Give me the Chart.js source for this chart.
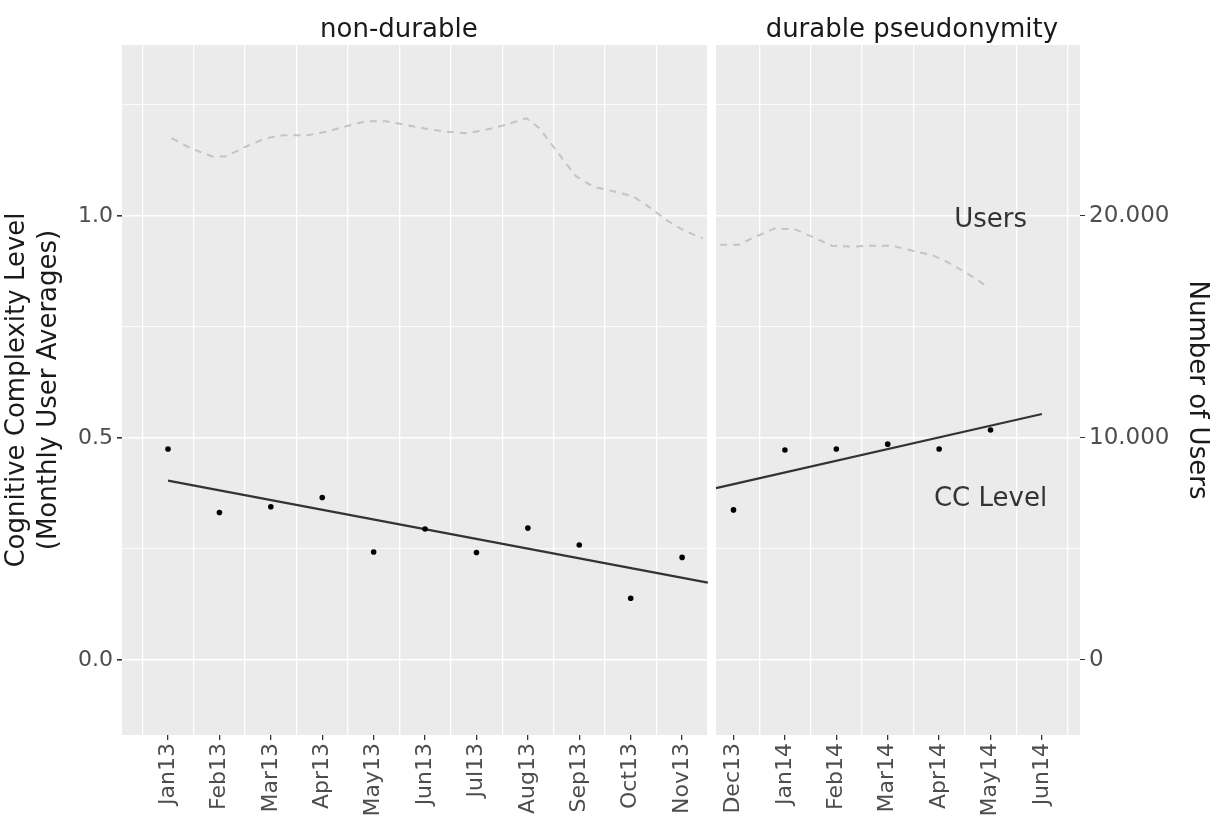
<!DOCTYPE html>
<html>
<head>
<meta charset="utf-8">
<script src="https://cdn.jsdelivr.net/npm/chart.js@4"></script>
<style>
  body { margin: 0; background: #fff; }
</style>
</head>
<body>
<canvas id="chart" width="1224" height="832"></canvas>
<script>
// month labels, index 0 = Jan13
const monthLabels = ['Jan13', 'Feb13', 'Mar13', 'Apr13', 'May13', 'Jun13', 'Jul13', 'Aug13', 'Sep13',
    'Oct13', 'Nov13', 'Dec13', 'Jan14', 'Feb14', 'Mar14', 'Apr14', 'May14', 'Jun14'];

// monthly CC level averages (Jan13 .. May14)
const ccLevel = [0.475, 0.332, 0.345, 0.366, 0.243, 0.295, 0.242, 0.297, 0.259, 0.139, 0.231,
    0.338, 0.473, 0.475, 0.486, 0.475, 0.518];

// linear fits per facet [month, level]
const trendNonDurable = [[0, 0.404], [10.5, 0.174]];
const trendDurable = [[10.66, 0.387], [17, 0.554]];

// number of users (dashed line), month position + count
const userMonthsNonDurable = [0.07, 0.45, 0.86, 1.12, 1.53, 1.90, 2.27, 2.72, 3.09, 3.46, 3.84, 4.25, 4.62,
    4.99, 5.40, 5.81, 6.18, 6.56, 6.97, 7.23, 7.49, 7.71, 7.94, 8.27, 8.68, 9.05, 9.35, 9.69, 10.02, 10.40];
const usersNonDurable = [23500, 23040, 22680, 22680, 23140, 23500, 23640, 23640, 23800, 24040, 24260, 24260, 24100,
    23940, 23800, 23720, 23880, 24100, 24400, 23940, 23140, 22460, 21780, 21320, 21100, 20880, 20420, 19820, 19360, 19000];
const userMonthsDurable = [10.74, 11.10, 11.42, 11.81, 12.20, 12.55, 12.91, 13.30, 13.69, 14.08, 14.47, 14.86,
    15.21, 15.54, 15.89];
const usersDurable = [18700, 18700, 19060, 19440, 19400, 19040, 18660, 18620, 18660, 18660, 18440, 18240,
    17860, 17420, 16900];

const facetNames = ['non-durable', 'durable pseudonymity'];
const levelTicks = [0, 0.25, 0.5, 0.75, 1.0, 1.25];
const userTicks = [0, 10000, 20000];

const FONT = 'DejaVu Sans';
const xMin = -0.895, xMax = 17.74;
const yMin = -0.169, yMax = 1.385;
const userScale = 20000; // 1.0 level == 20.000 users
const gapFrom = 10.5, gapTo = 10.66;

function isMajorLevel(v) {
    return Math.abs(v * 2 - Math.round(v * 2)) < 1e-6;
}

function dots(v) {
    return String(v).replace(/\B(?=(\d{3})+(?!\d))/g, '.');
}

// grey panel + white facet gap + text labels
const facetPlugin = {
    id: 'facet',
    beforeDraw(chart) {
        const { ctx, chartArea: a } = chart;
        ctx.save();
        ctx.fillStyle = '#ebebeb';
        ctx.fillRect(a.left, a.top, a.right - a.left, a.bottom - a.top);
        ctx.restore();
    },
    beforeDatasetsDraw(chart) {
        const { ctx, chartArea: a, scales } = chart;
        const x0 = scales.x.getPixelForValue(gapFrom);
        const x1 = scales.x.getPixelForValue(gapTo);
        ctx.save();
        ctx.fillStyle = '#ffffff';
        ctx.fillRect(x0, a.top, x1 - x0, a.bottom - a.top);
        ctx.restore();
    },
    afterDraw(chart) {
        const { ctx, scales } = chart;
        ctx.save();
        ctx.textAlign = 'center';
        ctx.textBaseline = 'middle';
        ctx.fillStyle = '#1a1a1a';
        ctx.font = '26px "' + FONT + '"';
        ctx.fillText(facetNames[0], scales.x.getPixelForValue(4.49), 30);
        ctx.fillText(facetNames[1], scales.x.getPixelForValue(14.47), 30);

        ctx.fillStyle = '#333333';
        ctx.font = '26px "' + FONT + '"';
        ctx.fillText('Users', scales.x.getPixelForValue(16.0), scales.y2.getPixelForValue(19800));
        ctx.fillText('CC Level', scales.x.getPixelForValue(16.0), scales.y.getPixelForValue(0.362));
        ctx.restore();
    }
};

const toPoints = (xs, ys) => xs.map((x, i) => ({ x: x, y: ys[i] }));

new Chart('chart', {
    type: 'line',
    data: {
        datasets: [
            {
                data: ccLevel.map((v, i) => ({ x: i, y: v })),
                yAxisID: 'y',
                showLine: false,
                pointRadius: 2.8,
                pointBackgroundColor: '#000',
                pointBorderWidth: 0
            },
            {
                data: trendNonDurable.map(p => ({ x: p[0], y: p[1] })),
                yAxisID: 'y',
                borderColor: '#333333',
                borderWidth: 2.2,
                pointRadius: 0
            },
            {
                data: trendDurable.map(p => ({ x: p[0], y: p[1] })),
                yAxisID: 'y',
                borderColor: '#333333',
                borderWidth: 2.2,
                pointRadius: 0
            },
            {
                data: toPoints(userMonthsNonDurable, usersNonDurable),
                yAxisID: 'y2',
                borderColor: '#c4c4c4',
                borderWidth: 2,
                borderDash: [7, 6],
                tension: 0,
                pointRadius: 0
            },
            {
                data: toPoints(userMonthsDurable, usersDurable),
                yAxisID: 'y2',
                borderColor: '#c4c4c4',
                borderWidth: 2,
                borderDash: [7, 6],
                tension: 0,
                pointRadius: 0
            }
        ]
    },
    options: {
        responsive: false,
        animation: false,
        devicePixelRatio: 1,
        layout: { padding: { top: 45, left: 0, right: 0, bottom: 0 } },
        plugins: {
            legend: { display: false },
            tooltip: { enabled: false }
        },
        scales: {
            x: {
                type: 'linear',
                position: 'bottom',
                min: xMin,
                max: xMax,
                afterBuildTicks: scale => {
                    const t = [];
                    for (let i = -0.5; i <= 17.5; i += 0.5) t.push({ value: i });
                    scale.ticks = t;
                },
                afterFit: scale => { scale.height = 97; },
                border: { display: false },
                grid: {
                    color: ctx => Number.isInteger(ctx.tick.value) ? 'rgba(0,0,0,0)' : '#ffffff',
                    lineWidth: 1.3,
                    tickLength: 5,
                    tickColor: ctx => Number.isInteger(ctx.tick.value) ? '#333333' : 'rgba(0,0,0,0)'
                },
                ticks: {
                    autoSkip: false,
                    minRotation: 90,
                    maxRotation: 90,
                    padding: 3,
                    color: '#4d4d4d',
                    font: { family: FONT, size: 22 },
                    callback: v => (Number.isInteger(v) && monthLabels[v]) ? monthLabels[v] : ''
                }
            },
            y: {
                position: 'left',
                min: yMin,
                max: yMax,
                afterBuildTicks: scale => { scale.ticks = levelTicks.map(v => ({ value: v })); },
                afterFit: scale => { scale.width = 122; },
                border: { display: false },
                grid: {
                    color: '#ffffff',
                    lineWidth: ctx => isMajorLevel(ctx.tick.value) ? 1.6 : 0.8,
                    tickLength: 5,
                    tickColor: ctx => isMajorLevel(ctx.tick.value) ? '#333333' : 'rgba(0,0,0,0)'
                },
                ticks: {
                    padding: 4,
                    color: '#4d4d4d',
                    font: { family: FONT, size: 22 },
                    callback: v => isMajorLevel(v) ? v.toFixed(1) : ''
                },
                title: {
                    display: true,
                    text: ['Cognitive Complexity Level', '(Monthly User Averages)'],
                    color: '#1a1a1a',
                    font: { family: FONT, size: 26, lineHeight: 1.2 },
                    padding: { top: 2, bottom: 0 }
                }
            },
            y2: {
                position: 'right',
                min: yMin * userScale,
                max: yMax * userScale,
                afterBuildTicks: scale => { scale.ticks = userTicks.map(v => ({ value: v })); },
                afterFit: scale => { scale.width = 144; },
                border: { display: false },
                grid: {
                    drawOnChartArea: false,
                    tickLength: 5,
                    tickColor: '#333333'
                },
                ticks: {
                    padding: 4,
                    color: '#4d4d4d',
                    font: { family: FONT, size: 23 },
                    callback: v => dots(v)
                },
                title: {
                    display: true,
                    text: 'Number of Users',
                    color: '#1a1a1a',
                    font: { family: FONT, size: 26 },
                    padding: { top: 12, bottom: 0 }
                }
            }
        }
    },
    plugins: [facetPlugin]
});
</script>
</body>
</html>
